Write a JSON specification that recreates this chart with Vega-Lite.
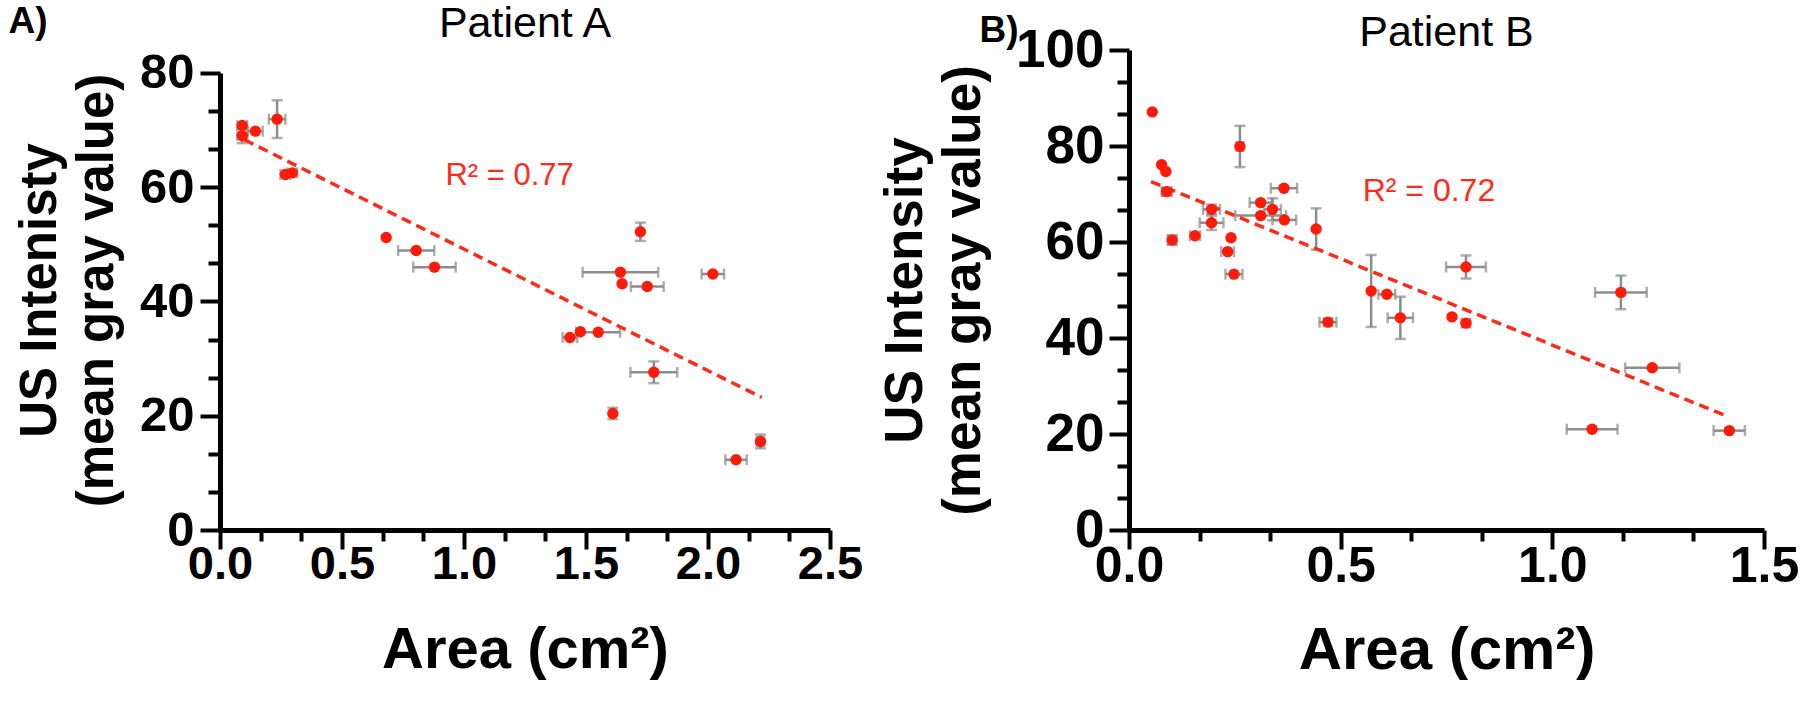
{
  "$schema": "https://vega.github.io/schema/vega-lite/v6.json",
  "background": "white",
  "padding": {"left": 8, "top": 2, "right": 0, "bottom": 0},
  "config": {
    "font": "Liberation Sans",
    "view": {"stroke": null}
  },
  "datasets": {
    "a": [
      {"x": 0.091, "y": 70.8, "xlo": 0.071, "xhi": 0.111},
      {"x": 0.091, "y": 69.0, "xlo": 0.071, "xhi": 0.111, "ylo": 67.7, "yhi": 70.3},
      {"x": 0.145, "y": 69.8, "xlo": 0.115, "xhi": 0.175},
      {"x": 0.234, "y": 71.9, "xlo": 0.2, "xhi": 0.268, "ylo": 68.6, "yhi": 75.2},
      {"x": 0.268, "y": 62.2, "xlo": 0.248, "xhi": 0.288},
      {"x": 0.296, "y": 62.5, "xlo": 0.276, "xhi": 0.316},
      {"x": 0.681, "y": 51.2},
      {"x": 0.804, "y": 48.9, "xlo": 0.73, "xhi": 0.878},
      {"x": 0.879, "y": 46.0, "xlo": 0.792, "xhi": 0.966},
      {"x": 1.434, "y": 33.7, "xlo": 1.404, "xhi": 1.464},
      {"x": 1.477, "y": 34.7},
      {"x": 1.55, "y": 34.6, "xlo": 1.46, "xhi": 1.64},
      {"x": 1.61, "y": 20.4, "ylo": 19.4, "yhi": 21.4},
      {"x": 1.641, "y": 45.1, "xlo": 1.486, "xhi": 1.796},
      {"x": 1.648, "y": 43.1},
      {"x": 1.723, "y": 52.2, "ylo": 50.6, "yhi": 53.8},
      {"x": 1.751, "y": 42.6, "xlo": 1.684, "xhi": 1.818},
      {"x": 1.778, "y": 27.6, "xlo": 1.682, "xhi": 1.874, "ylo": 25.7, "yhi": 29.5},
      {"x": 2.02, "y": 44.8, "xlo": 1.974, "xhi": 2.066},
      {"x": 2.115, "y": 12.3, "xlo": 2.071, "xhi": 2.159},
      {"x": 2.215, "y": 15.5, "xlo": 2.2, "xhi": 2.23, "ylo": 14.3, "yhi": 16.7}
    ],
    "b": [
      {"x": 0.055, "y": 87.1},
      {"x": 0.077, "y": 76.1},
      {"x": 0.087, "y": 74.7},
      {"x": 0.089, "y": 70.5, "xlo": 0.077, "xhi": 0.101, "ylo": 69.7, "yhi": 71.3},
      {"x": 0.102, "y": 60.4, "xlo": 0.092, "xhi": 0.112, "ylo": 59.4, "yhi": 61.4},
      {"x": 0.156, "y": 61.3, "xlo": 0.144, "xhi": 0.168},
      {"x": 0.195, "y": 66.8, "xlo": 0.175, "xhi": 0.215, "ylo": 65.8, "yhi": 67.8},
      {"x": 0.195, "y": 64.0, "xlo": 0.167, "xhi": 0.223, "ylo": 62.5, "yhi": 65.5},
      {"x": 0.241, "y": 60.9},
      {"x": 0.233, "y": 58.0, "xlo": 0.218, "xhi": 0.248},
      {"x": 0.248, "y": 53.3, "xlo": 0.228, "xhi": 0.268},
      {"x": 0.262, "y": 79.9, "xlo": 0.254, "xhi": 0.27, "ylo": 75.6, "yhi": 84.2},
      {"x": 0.311, "y": 68.2, "xlo": 0.285, "xhi": 0.337},
      {"x": 0.311, "y": 65.5, "xlo": 0.251, "xhi": 0.371},
      {"x": 0.339, "y": 66.8, "xlo": 0.319, "xhi": 0.359, "ylo": 64.5, "yhi": 69.1},
      {"x": 0.366, "y": 71.2, "xlo": 0.335, "xhi": 0.397},
      {"x": 0.367, "y": 64.6, "xlo": 0.339, "xhi": 0.395},
      {"x": 0.442, "y": 62.7, "ylo": 58.4, "yhi": 67.0},
      {"x": 0.47, "y": 43.3, "xlo": 0.45, "xhi": 0.49, "ylo": 42.5, "yhi": 44.1},
      {"x": 0.572, "y": 49.8, "ylo": 42.3, "yhi": 57.3},
      {"x": 0.609, "y": 49.1, "xlo": 0.589, "xhi": 0.629},
      {"x": 0.641, "y": 44.2, "xlo": 0.611, "xhi": 0.671, "ylo": 39.8, "yhi": 48.6},
      {"x": 0.763, "y": 44.4},
      {"x": 0.796, "y": 54.8, "xlo": 0.749, "xhi": 0.843, "ylo": 52.4, "yhi": 57.2},
      {"x": 0.796, "y": 43.1, "xlo": 0.786, "xhi": 0.806},
      {"x": 1.094, "y": 21.0, "xlo": 1.034, "xhi": 1.154},
      {"x": 1.162, "y": 49.5, "xlo": 1.101, "xhi": 1.223, "ylo": 46.0, "yhi": 53.0},
      {"x": 1.236, "y": 33.8, "xlo": 1.172, "xhi": 1.3},
      {"x": 1.418, "y": 20.7, "xlo": 1.381, "xhi": 1.455}
    ],
    "fitA": [{"x": 0.10, "y": 68.3}, {"x": 2.22, "y": 23.2}],
    "fitB": [{"x": 0.052, "y": 72.6}, {"x": 1.413, "y": 23.7}],
    "labA": [{"x": 0.924, "y": 62.0, "label": "R² = 0.77"}],
    "labB": [{"x": 0.552, "y": 70.7, "label": "R² = 0.72"}]
  },
  "spacing": 16,
  "hconcat": [
    {
      "title": {"text": "A)", "anchor": "start", "frame": "bounds", "fontSize": 37, "fontWeight": "bold", "color": "black", "offset": -38, "dx": -6},
      "vconcat": [
        {
          "width": 610,
          "height": 480,
          "title": {"text": "Patient A", "fontSize": 43, "fontWeight": "normal", "color": "black", "offset": 3},
          "resolve": {"axis": {"x": "independent", "y": "independent"}},
          "layer": [
            {
              "data": {"name": "a"},
              "transform": [{"filter": "isValid(datum.xlo)"}],
              "mark": {"type": "errorbar", "ticks": true, "size": 11, "thickness": 2.5, "color": "#8c8c8c"},
              "encoding": {
                "x": {"field": "xlo", "type": "quantitative", "scale": {"domain": [0, 2.5], "nice": false, "zero": false}, "axis": null},
                "x2": {"field": "xhi"},
                "y": {"field": "y", "type": "quantitative", "scale": {"domain": [0, 84], "nice": false}, "axis": null}
              }
            },
            {
              "data": {"name": "a"},
              "transform": [{"filter": "isValid(datum.ylo)"}],
              "mark": {"type": "errorbar", "ticks": true, "size": 11, "thickness": 2.5, "color": "#8c8c8c"},
              "encoding": {
                "x": {"field": "x", "type": "quantitative", "scale": {"domain": [0, 2.5], "nice": false, "zero": false}, "axis": null},
                "y": {"field": "ylo", "type": "quantitative", "scale": {"domain": [0, 84], "nice": false}, "axis": null},
                "y2": {"field": "yhi"}
              }
            },
            {
              "data": {"name": "fitA"},
              "mark": {"type": "line", "color": "#ff2a1a", "strokeDash": [10, 6], "strokeWidth": 3.5},
              "encoding": {
                "x": {"field": "x", "type": "quantitative", "scale": {"domain": [0, 2.5], "nice": false, "zero": false}, "axis": null},
                "y": {"field": "y", "type": "quantitative", "scale": {"domain": [0, 84], "nice": false}, "axis": null}
              }
            },
            {
              "data": {"name": "a"},
              "mark": {"type": "circle", "size": 130, "color": "#ff1a0a", "opacity": 1},
              "encoding": {
                "x": {
                  "field": "x", "type": "quantitative",
                  "scale": {"domain": [0, 2.5], "nice": false, "zero": false},
                  "axis": {
                    "title": "Area (cm²)",
                    "values": [0, 0.166667, 0.333333, 0.5, 0.666667, 0.833333, 1, 1.166667, 1.333333, 1.5, 1.666667, 1.833333, 2, 2.166667, 2.333333, 2.5],
                    "labelExpr": "abs(datum.value*2-round(datum.value*2))<0.001 ? format(datum.value,'.1f') : ''",
                    "tickSize": {"condition": {"test": "abs(datum.value*2-round(datum.value*2))<0.001", "value": 19}, "value": 11},
                    "labelFontSize": {"condition": {"test": "abs(datum.value*2-round(datum.value*2))<0.001", "value": 47}, "value": 1},
                    "grid": false, "domain": true, "domainWidth": 5, "domainColor": "black",
                    "tickWidth": 4, "tickColor": "black", "ticks": true,
                    "labelFontWeight": "bold", "labelColor": "black", "labelPadding": -8,
                    "labelFlush": false, "labelOverlap": false,
                    "titleFontSize": 58, "titleFontWeight": "bold", "titleColor": "black", "titlePadding": 34
                  }
                },
                "y": {
                  "field": "y", "type": "quantitative",
                  "scale": {"domain": [0, 84], "nice": false},
                  "axis": {
                    "title": ["US Intenisty", "(mean gray value)"],
                    "values": [0, 6.66667, 13.33333, 20, 26.66667, 33.33333, 40, 46.66667, 53.33333, 60, 66.66667, 73.33333, 80],
                    "labelExpr": "abs(datum.value/20-round(datum.value/20))<0.001 ? format(datum.value,'d') : ''",
                    "tickSize": {"condition": {"test": "abs(datum.value/20-round(datum.value/20))<0.001", "value": 20}, "value": 12},
                    "labelFontSize": {"condition": {"test": "abs(datum.value/20-round(datum.value/20))<0.001", "value": 49}, "value": 1},
                    "grid": false, "domain": true, "domainWidth": 5, "domainColor": "black", "domainDash": [457.1, 200],
                    "tickWidth": 4, "tickColor": "black", "ticks": true,
                    "labelFontWeight": "bold", "labelColor": "black", "labelPadding": 6,
                    "labelOverlap": false,
                    "titleFontSize": 51, "titleFontWeight": "bold", "titleColor": "black", "titlePadding": 16, "titleLineHeight": 57
                  }
                }
              }
            },
            {
              "data": {"name": "labA"},
              "mark": {"type": "text", "align": "left", "baseline": "middle", "fontSize": 31, "color": "#ff2a1a"},
              "encoding": {
                "x": {"field": "x", "type": "quantitative", "scale": {"domain": [0, 2.5], "nice": false, "zero": false}, "axis": null},
                "y": {"field": "y", "type": "quantitative", "scale": {"domain": [0, 84], "nice": false}, "axis": null},
                "text": {"field": "label"}
              }
            }
          ]
        }
      ]
    },
    {
      "title": {"text": "B)", "anchor": "start", "frame": "bounds", "fontSize": 37, "fontWeight": "bold", "color": "black", "offset": -38, "dx": 100},
      "vconcat": [
        {
          "width": 635,
          "height": 480,
          "title": {"text": "Patient B", "fontSize": 43, "fontWeight": "normal", "color": "black", "offset": -31},
          "resolve": {"axis": {"x": "independent", "y": "independent"}},
          "layer": [
            {
              "data": {"name": "b"},
              "transform": [{"filter": "isValid(datum.xlo)"}],
              "mark": {"type": "errorbar", "ticks": true, "size": 11, "thickness": 2.5, "color": "#8c8c8c"},
              "encoding": {
                "x": {"field": "xlo", "type": "quantitative", "scale": {"domain": [0, 1.5], "nice": false, "zero": false}, "axis": null},
                "x2": {"field": "xhi"},
                "y": {"field": "y", "type": "quantitative", "scale": {"domain": [0, 100], "nice": false}, "axis": null}
              }
            },
            {
              "data": {"name": "b"},
              "transform": [{"filter": "isValid(datum.ylo)"}],
              "mark": {"type": "errorbar", "ticks": true, "size": 11, "thickness": 2.5, "color": "#8c8c8c"},
              "encoding": {
                "x": {"field": "x", "type": "quantitative", "scale": {"domain": [0, 1.5], "nice": false, "zero": false}, "axis": null},
                "y": {"field": "ylo", "type": "quantitative", "scale": {"domain": [0, 100], "nice": false}, "axis": null},
                "y2": {"field": "yhi"}
              }
            },
            {
              "data": {"name": "fitB"},
              "mark": {"type": "line", "color": "#ff2a1a", "strokeDash": [10, 6], "strokeWidth": 3.5},
              "encoding": {
                "x": {"field": "x", "type": "quantitative", "scale": {"domain": [0, 1.5], "nice": false, "zero": false}, "axis": null},
                "y": {"field": "y", "type": "quantitative", "scale": {"domain": [0, 100], "nice": false}, "axis": null}
              }
            },
            {
              "data": {"name": "b"},
              "mark": {"type": "circle", "size": 130, "color": "#ff1a0a", "opacity": 1},
              "encoding": {
                "x": {
                  "field": "x", "type": "quantitative",
                  "scale": {"domain": [0, 1.5], "nice": false, "zero": false},
                  "axis": {
                    "title": "Area (cm²)",
                    "values": [0, 0.166667, 0.333333, 0.5, 0.666667, 0.833333, 1, 1.166667, 1.333333, 1.5],
                    "labelExpr": "abs(datum.value*2-round(datum.value*2))<0.001 ? format(datum.value,'.1f') : ''",
                    "tickSize": {"condition": {"test": "abs(datum.value*2-round(datum.value*2))<0.001", "value": 19}, "value": 11},
                    "labelFontSize": {"condition": {"test": "abs(datum.value*2-round(datum.value*2))<0.001", "value": 50}, "value": 1},
                    "grid": false, "domain": true, "domainWidth": 5, "domainColor": "black",
                    "tickWidth": 4, "tickColor": "black", "ticks": true,
                    "labelFontWeight": "bold", "labelColor": "black", "labelPadding": -8,
                    "labelFlush": false, "labelOverlap": false,
                    "titleFontSize": 60, "titleFontWeight": "bold", "titleColor": "black", "titlePadding": 30
                  }
                },
                "y": {
                  "field": "y", "type": "quantitative",
                  "scale": {"domain": [0, 100], "nice": false},
                  "axis": {
                    "title": ["US Intensity", "(mean gray value)"],
                    "values": [0, 6.66667, 13.33333, 20, 26.66667, 33.33333, 40, 46.66667, 53.33333, 60, 66.66667, 73.33333, 80, 86.66667, 93.33333, 100],
                    "labelExpr": "abs(datum.value/20-round(datum.value/20))<0.001 ? format(datum.value,'d') : ''",
                    "tickSize": {"condition": {"test": "abs(datum.value/20-round(datum.value/20))<0.001", "value": 20}, "value": 12},
                    "labelFontSize": {"condition": {"test": "abs(datum.value/20-round(datum.value/20))<0.001", "value": 53}, "value": 1},
                    "grid": false, "domain": true, "domainWidth": 5, "domainColor": "black",
                    "tickWidth": 4, "tickColor": "black", "ticks": true,
                    "labelFontWeight": "bold", "labelColor": "black", "labelPadding": 5,
                    "labelOverlap": false,
                    "titleFontSize": 53, "titleFontWeight": "bold", "titleColor": "black", "titlePadding": 25, "titleLineHeight": 58
                  }
                }
              }
            },
            {
              "data": {"name": "labB"},
              "mark": {"type": "text", "align": "left", "baseline": "middle", "fontSize": 32, "color": "#ff2a1a"},
              "encoding": {
                "x": {"field": "x", "type": "quantitative", "scale": {"domain": [0, 1.5], "nice": false, "zero": false}, "axis": null},
                "y": {"field": "y", "type": "quantitative", "scale": {"domain": [0, 100], "nice": false}, "axis": null},
                "text": {"field": "label"}
              }
            }
          ]
        }
      ]
    }
  ]
}
